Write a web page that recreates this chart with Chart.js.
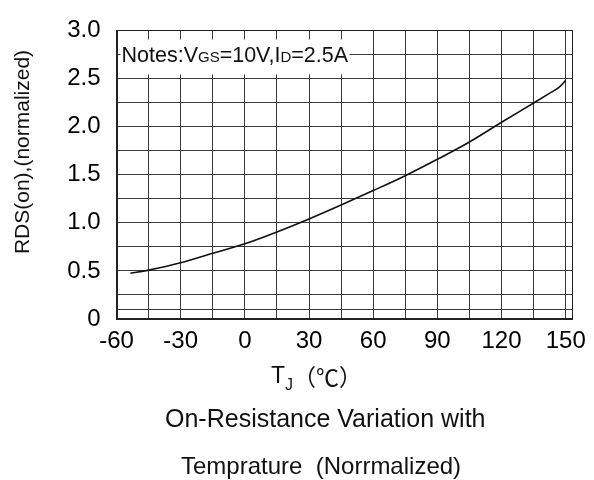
<!DOCTYPE html>
<html>
<head>
<meta charset="utf-8">
<script src="https://cdn.jsdelivr.net/npm/chart.js@4"></script>
<style>
  html, body { margin: 0; padding: 0; background: #fff; }
  #wrap { width: 594px; height: 480px; }
</style>
</head>
<body>
<div id="wrap"><canvas id="rdsChart"></canvas></div>
<script>
// junction temperature (°C) and normalized RDS(on)
const tempC = [-53.5, -45, -30, -15, 0, 15, 30, 45, 60, 75, 90, 105, 120, 135, 142, 147, 150];
const rdsNorm = [0.475, 0.508, 0.584, 0.683, 0.782, 0.905, 1.04, 1.185, 1.335, 1.49, 1.66, 1.84, 2.045, 2.245, 2.34, 2.41, 2.48];

// grid / tick positions
const xTicks = [-60, -45, -30, -15, 0, 15, 30, 45, 60, 75, 90, 105, 120, 135, 150];
const yTicks = [0, 0.1, 0.25, 0.5, 0.75, 1.0, 1.25, 1.5, 1.75, 2.0, 2.25, 2.5, 2.75, 3.0];
const xMin = -60, xMax = 153;
const yMin = 0, yMax = 3;

const FONT = '"Liberation Sans", Arial, sans-serif';
Chart.defaults.font.family = FONT;
Chart.defaults.color = '#000';

// draws frame, note box and the titles
const textPlugin = {
    id: 'sheetText',
    afterDraw(chart) {
        const ctx = chart.ctx;
        const a = chart.chartArea;
        const ys = chart.scales.y;
        ctx.save();

        // frame
        ctx.strokeStyle = '#222';
        ctx.lineWidth = 1;
        ctx.strokeRect(Math.round(a.left) + 0.5, Math.round(a.top) + 0.5,
            Math.round(a.right - a.left) - 1, Math.round(a.bottom - a.top) - 1);

        // note with white background over the grid
        const noteY = ys.getPixelForValue(2.75);
        ctx.fillStyle = '#fff';
        ctx.fillRect(a.left + 4, noteY - 15, 229, 35);
        const parts = [['Notes:V', 21.5], ['GS', 15], ['=10V,I', 21.5], ['D', 15], ['=2.5A', 21.5]];
        let x = a.left + 5;
        ctx.fillStyle = '#111';
        ctx.textBaseline = 'alphabetic';
        ctx.textAlign = 'left';
        parts.forEach(p => {
            ctx.font = p[1] + 'px ' + FONT;
            ctx.fillText(p[0], x, noteY + 8);
            x += ctx.measureText(p[0]).width;
        });

        // y axis title
        ctx.save();
        ctx.translate(23, 152);
        ctx.rotate(-Math.PI / 2);
        ctx.textAlign = 'center';
        ctx.textBaseline = 'middle';
        ctx.font = '21px ' + FONT;
        ctx.fillText('RDS(on),(normalized)', 0, 0);
        ctx.restore();

        // x axis title: TJ (℃)
        ctx.textAlign = 'left';
        ctx.font = '23px ' + FONT;
        ctx.fillText('T', 271, 383);
        let tx = 271 + ctx.measureText('T').width;
        ctx.font = '16px ' + FONT;
        ctx.fillText('J', tx, 390);
        tx += ctx.measureText('J').width;
        ctx.font = '23px "Noto Sans CJK SC", sans-serif';
        ctx.fillText('（℃）', tx, 386);

        // caption
        ctx.font = '25px ' + FONT;
        ctx.fillText('On-Resistance Variation with', 165, 427);
        ctx.font = '24px ' + FONT;
        ctx.fillText('Temprature  (Norrmalized)', 181, 474);
        ctx.restore();
    }
};

const ctx = document.getElementById('rdsChart').getContext('2d');
new Chart(ctx, {
    type: 'line',
    data: {
        datasets: [{
            data: tempC.map((t, i) => ({ x: t, y: rdsNorm[i] })),
            borderColor: '#111',
            borderWidth: 1.6,
            pointRadius: 0,
            cubicInterpolationMode: 'monotone',
            fill: false
        }]
    },
    options: {
        responsive: true,
        maintainAspectRatio: false,
        animation: false,
        layout: { padding: { top: 16, right: 19, left: 0, bottom: 0 } },
        plugins: {
            legend: { display: false },
            tooltip: { enabled: false }
        },
        scales: {
            x: {
                type: 'linear',
                min: xMin,
                max: xMax,
                afterBuildTicks: s => { s.ticks = xTicks.map(v => ({ value: v })); },
                afterFit: s => { s.height = 161; },
                ticks: {
                    autoSkip: false,
                    maxRotation: 0,
                    padding: 8,
                    font: { size: 24 },
                    callback: v => (v % 30 === 0 ? String(v) : '')
                },
                grid: { color: '#3a3a3a', lineWidth: 1, drawTicks: false },
                border: { color: '#222' }
            },
            y: {
                type: 'linear',
                min: yMin,
                max: yMax,
                afterBuildTicks: s => { s.ticks = yTicks.map(v => ({ value: v })); },
                afterFit: s => { s.width = 116.5; },
                ticks: {
                    autoSkip: false,
                    padding: 16,
                    font: { size: 24 },
                    callback: v => (v === 0 ? '0' : (Math.abs(v * 2 - Math.round(v * 2)) < 1e-9 ? v.toFixed(1) : ''))
                },
                grid: { color: '#3a3a3a', lineWidth: 1, drawTicks: false },
                border: { color: '#222' }
            }
        }
    },
    plugins: [textPlugin]
});
</script>
</body>
</html>
